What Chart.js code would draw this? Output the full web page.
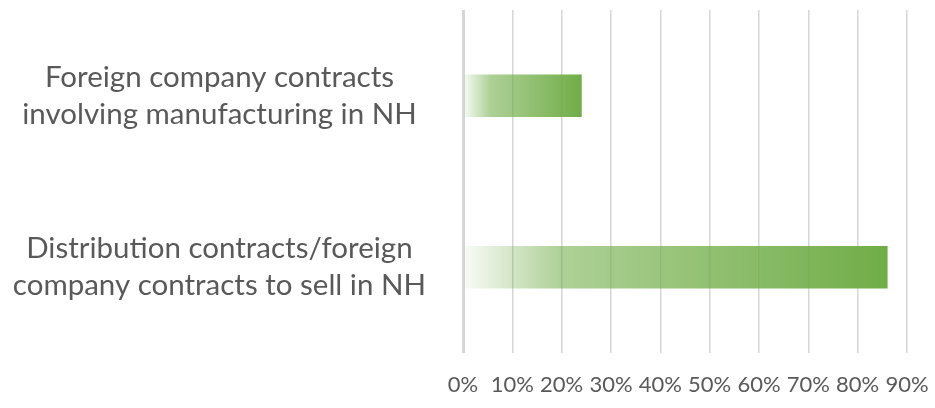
<!DOCTYPE html>
<html>
<head>
<meta charset="utf-8">
<script src="https://cdn.jsdelivr.net/npm/chart.js@4/dist/chart.umd.min.js"></script>
<style>
  body { margin: 0; background: #fff; }
  #wrap { width: 935px; height: 408px; position: relative; }
</style>
</head>
<body>
<div id="wrap"><canvas id="contractsChart"></canvas></div>
<script>
// categories and values (percent)
var categories = [
    ["Foreign company contracts", "involving manufacturing in NH"],
    ["Distribution contracts/foreign", "company contracts to sell in NH"]
];
var shares = [24, 86];
var tickValues = [0, 10, 20, 30, 40, 50, 60, 70, 80, 90];

// fade-in green like the excel gradient fill
function barFill(ctx) {
    var chart = ctx.chart;
    if (!chart.chartArea || ctx.raw === undefined) return "#70ad47";
    var x = chart.scales.x;
    var x0 = x.getPixelForValue(0);
    var x1 = x.getPixelForValue(ctx.raw);
    var g = chart.ctx.createLinearGradient(x0, 0, x1, 0);
    g.addColorStop(0, "rgba(112,173,71,0.04)");
    g.addColorStop(0.23, "rgba(112,173,71,0.57)");
    g.addColorStop(1, "rgba(112,173,71,1)");
    return g;
}

var ctx = document.getElementById("contractsChart");
var contractsChart = new Chart(ctx, {
    type: "bar",
    data: {
        labels: categories,
        datasets: [{
            data: shares,
            backgroundColor: barFill,
            borderWidth: 0,
            barThickness: 42
        }]
    },
    options: {
        indexAxis: "y",
        responsive: true,
        maintainAspectRatio: false,
        animation: false,
        layout: { padding: { top: 10, right: 28, bottom: 10, left: 0 } },
        plugins: {
            legend: { display: false },
            tooltip: { enabled: false }
        },
        scales: {
            x: {
                min: 0,
                max: 90,
                afterBuildTicks: function (scale) {
                    scale.ticks = tickValues.map(function (v) { return { value: v }; });
                },
                afterFit: function (scale) {
                    scale.height = 45;
                    scale.paddingLeft = 0;
                    scale.paddingRight = 0;
                },
                border: { display: false },
                grid: {
                    color: "#d6d6d6",
                    lineWidth: function (c) { return c.tick && c.tick.value === 0 ? 3 : 1.5; },
                    drawTicks: false
                },
                ticks: {
                    padding: 19,
                    color: "#595959",
                    font: { family: "Lato", size: 22 },
                    callback: function (v) { return v + "%"; }
                }
            },
            y: {
                afterFit: function (scale) {
                    scale.width = 463;
                    scale.paddingTop = 0;
                    scale.paddingBottom = 0;
                },
                border: { display: false },
                grid: { display: false, drawTicks: false },
                ticks: {
                    crossAlign: "center",
                    padding: 37,
                    color: "#595959",
                    font: { family: "Lato", size: 29.5, lineHeight: 1.27 }
                }
            }
        }
    }
});
</script>
</body>
</html>
